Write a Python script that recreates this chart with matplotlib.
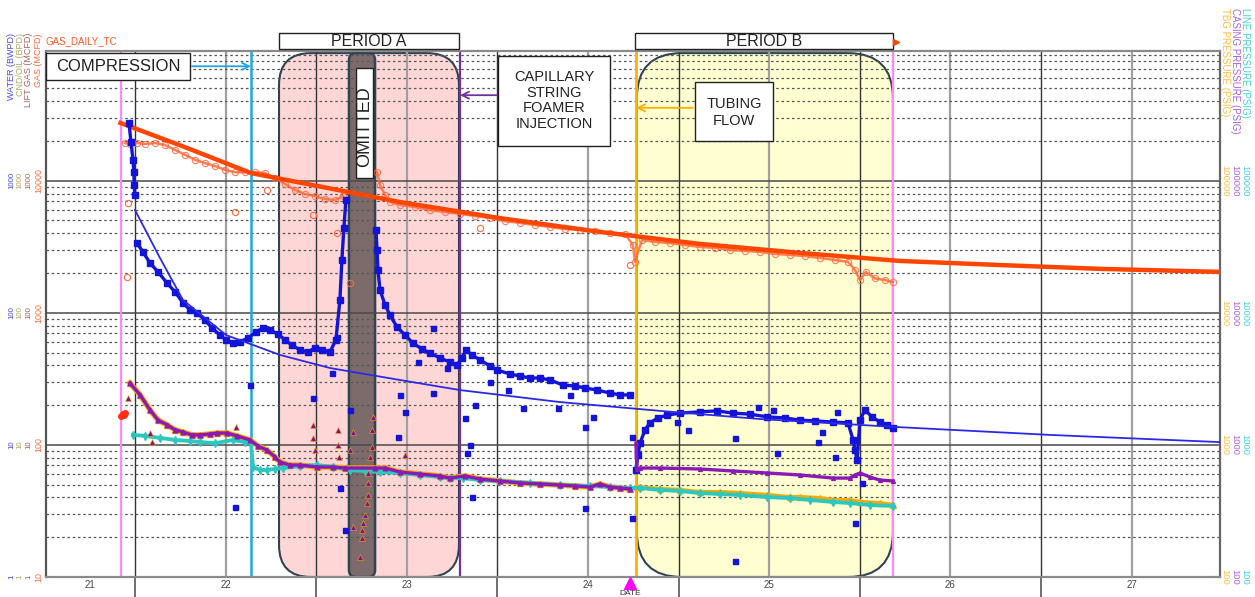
import numpy as np
import matplotlib.pyplot as plt
from matplotlib.patches import FancyBboxPatch, Rectangle
from matplotlib.ticker import LogLocator, NullFormatter

plt.rcParams['font.family'] = ['Liberation Sans', 'DejaVu Sans']

nan = np.nan

# time axis in decimal years
year_edges = [2022, 2023, 2024, 2025, 2026, 2027]
mid_years = [2022.5, 2023.5, 2024.5, 2025.5, 2026.5, 2027.5]
label_pos = [2021.754, 2022.5, 2023.5, 2024.5, 2025.5, 2026.5, 2027.5]
year_labels = ['21', '22', '23', '24', '25', '26', '27']

# GAS_DAILY_TC type curve (MCFD)
gas_tc_t = [2021.92, 2022.26, 2022.64, 2023.46, 2024.01, 2024.57, 2025.12,
            2025.67, 2026.22, 2026.77, 2027.33, 2027.99]
gas_tc = [27350, 18300, 11430, 6900, 5220, 4090, 3320, 2840, 2470, 2300, 2150, 2040]

# gas (MCFD)
gas_t = [2021.945, 2021.972, 2022.011, 2022.055, 2022.110, 2022.166, 2022.221, 2022.276,
         2022.331, 2022.386, 2022.442, 2022.497, 2022.552, 2022.607, 2022.662, 2022.717,
         2022.773, 2022.828, 2022.883, 2022.938, 2022.993, 2023.049, 2023.104, 2023.148,
         2023.240, 2023.336, 2023.352, 2023.380, 2023.407, 2023.462, 2023.545, 2023.628,
         2023.711, 2023.794, 2023.876, 2023.959, 2024.042, 2024.125, 2024.208, 2024.290,
         2024.373, 2024.456, 2024.539, 2024.621, 2024.704, 2024.748, 2024.759, 2024.798,
         2024.870, 2024.953, 2025.035, 2025.118, 2025.201, 2025.284, 2025.366, 2025.449,
         2025.532, 2025.615, 2025.698, 2025.780, 2025.863, 2025.935, 2025.974, 2026.001,
         2026.034, 2026.084, 2026.139, 2026.183]
gas = [19300, 19000, 19300, 19000, 19300, 18600, 17100, 15700,
       14400, 13600, 12900, 12100, 11600, 11600, 11600, 11400,
       10470, 9440, 8510, 7930, 7660, 7270, 7140, 7660,
       nan, 11640, 9270, 7800, 6900, 6550, 6320, 6000,
       5790, 5600, 5410, 5220, 4950, 4790, 4620, 4460,
       4310, 4240, 4160, 4020, 3960, 3260, 2430, 3560,
       3440, 3370, 3260, 3150, 3100, 2990, 2940, 2890,
       2790, 2740, 2690, 2600, 2510, 2430, 2110, 1770,
       2040, 1820, 1770, 1710]
gas_out_t = [2021.961, 2021.956, 2022.552, 2022.982, 2023.115, 2022.728, 2023.904, 2024.732, 2023.187]
gas_out = [6780, 1870, 5790, 5500, 4020, 8510, 4390, 2300, 1680]

# water (BWPD)
water_t = [2021.967, 2021.978, 2021.989, 2021.994, 2021.996, 2022.000, 2022.005, 2022.011,
           2022.044, 2022.083, 2022.127, 2022.177, 2022.221, 2022.265, 2022.304, 2022.342,
           2022.386, 2022.425, 2022.469, 2022.502, 2022.541, 2022.579, 2022.624, 2022.668,
           2022.706, 2022.745, 2022.789, 2022.828, 2022.866, 2022.911, 2022.955, 2022.993,
           2023.032, 2023.076, 2023.109, 2023.131, 2023.142, 2023.153, 2023.164, 2023.250,
           2023.330, 2023.336, 2023.341, 2023.352, 2023.380, 2023.407, 2023.446, 2023.490,
           2023.534, 2023.584, 2023.628, 2023.683, 2023.738, 2023.777, 2023.805, 2023.827,
           2023.860, 2023.904, 2023.959, 2023.998, 2024.070, 2024.125, 2024.180, 2024.235,
           2024.290, 2024.362, 2024.428, 2024.483, 2024.550, 2024.621, 2024.677, 2024.732,
           2024.750, 2024.765, 2024.776, 2024.787, 2024.815, 2024.842, 2024.886, 2024.936,
           2025.008, 2025.118, 2025.212, 2025.300, 2025.394, 2025.488, 2025.587, 2025.670,
           2025.753, 2025.852, 2025.935, 2025.963, 2025.974, 2025.985, 2026.001, 2026.029,
           2026.067, 2026.111, 2026.150, 2026.183]
water = [2735, 1963, 1435, 1164, 927, 780, nan, 337,
         289, 238, 204, 168, 144, 119, 105, 99.6,
         88.2, 76.7, 67.9, 62.3, 59.0, 60.1, 64.5, 71.6,
         76.7, 74.1, 69.1, 62.3, 57.0, 52.3, 50.5, 54.2,
         52.3, 50.5, 62.3, 125, 251, 439, 714, nan,
         424, 299, 211, 149, 115, 96.2, 78.1, 67.9,
         59.0, 53.2, 49.6, 45.5, 42.4, 40.3, 45.5, 52.3,
         48.0, 44.0, 39.6, 36.9, 34.4, 33.2, 32.1, 32.1,
         31.0, 28.4, 27.9, 27.0, 26.0, 24.7, 23.9, 23.9,
         nan, 6.46, 8.39, 10.3, 13.0, 14.7, 16.0, 16.8,
         17.4, 17.8, 18.1, 17.4, 17.1, 16.3, 16.0, 15.4,
         15.2, 14.9, 14.7, 10.9, 9.14, 7.69, 15.4, 18.4,
         16.3, 14.9, 14.2, 13.4]
water_out_t = [2022.635, 2022.552, 2022.982, 2023.187, 2023.131, 2023.087, 2023.462, 2023.490,
               2023.451, 2023.645, 2023.115, 2023.645, 2023.562, 2023.722, 2023.821, 2023.849,
               2023.832, 2023.860, 2023.876, 2023.959, 2024.058, 2024.141, 2024.334, 2024.401,
               2024.483, 2024.528, 2024.483, 2024.743, 2024.743, 2024.991, 2025.052, 2025.311,
               2025.543, 2025.769, 2025.791, 2025.863, 2025.874, 2025.974, 2026.012, 2025.311,
               2025.438, 2025.521, 2023.159]
water_out = [28.4, 3.39, 22.6, 18.4, 4.72, 35.0, 23.9, 17.8,
             11.5, 24.7, 65.6, 76.7, 42.4, 38.2, 16.0, 9.98,
             8.68, 4.03, 20.0, 29.9, 26.0, 19.0, 19.0, 23.9,
             13.7, 16.3, 3.33, 11.5, 2.80, 14.9, 13.0, 11.3,
             8.68, 10.5, 12.5, 8.10, 17.8, 2.56, 5.15, 1.32,
             19.4, 18.4, 2.27]
water_tc_t = [2022.000, 2022.138, 2022.265, 2022.502, 2022.800, 2023.076, 2023.462,
              2023.794, 2024.345, 2024.897, 2025.449, 2026.183, 2027.050, 2027.988]
water_tc = [600, 260, 125, 67.9, 48.0, 38.2, 31.0, 26.0, 21.1, 18.1, 15.7, 13.7, 11.9, 10.5]

# lift gas (MCFD)
lift_t = [2021.925, 2021.932, 2021.938, 2021.945]
lift = [16.5, 17.0, 16.8, 17.4]

# casing / tbg pressure before tubing flow (PSIG)
csg_t = [2021.972, 2022.028, 2022.083, 2022.127, 2022.177, 2022.221, 2022.265, 2022.315,
         2022.359, 2022.414, 2022.453, 2022.508, 2022.563, 2022.635, 2022.679, 2022.728,
         2022.773, 2022.800, 2022.855, 2022.911, 2023.004, 2023.093, 2023.159, 2023.325,
         2023.380, 2023.462, 2023.573, 2023.683, 2023.738, 2023.821, 2023.904, 2024.014,
         2024.125, 2024.235, 2024.345, 2024.428, 2024.511, 2024.566, 2024.621, 2024.677,
         2024.732]
csg = [2940, 2390, 1840, 1540, 1420, 1300, 1250, 1190,
       1190, 1210, 1230, 1230, 1170, 1090, 980, 914,
       810, 742, 704, 704, 680, 680, 668, 668,
       668, 624, 602, 582, 561, 582, 552, 533,
       515, 506, 497, 489, 480, 506, 480, 472,
       464]
csg_b_t = [2024.765, 2024.770, 2024.787, 2024.897, 2025.118, 2025.300, 2025.488, 2025.670,
           2025.852, 2025.946, 2025.974, 2026.001, 2026.056, 2026.111, 2026.183]
csg_b = [1030, 657, 668, 668, 657, 635, 613, 592, 561, 561, 592, 613, 571, 542, 533]
tbg_b_t = [2024.770, 2024.787, 2024.897, 2025.008, 2025.118, 2025.229, 2025.339, 2025.488,
           2025.615, 2025.670, 2025.780, 2025.852, 2025.946, 2026.001, 2026.111, 2026.183]
tbg_b = [480, 480, 464, 456, 440, 440, 432, 418, 403, 403, 396, 383, 383, 370, 363, 351]
csg_out_t = [2022.982, 2022.982, 2022.993, 2023.120, 2023.120, 2023.126, 2023.203, 2023.187,
             2023.313, 2023.308, 2023.308, 2023.297, 2023.286, 2023.286, 2023.286, 2023.280,
             2023.269, 2023.258, 2023.253, 2023.253, 2023.242, 2023.203, 2023.490, 2021.961,
             2022.083, 2022.094, 2022.557]
csg_out = [1420, 1130, 914, 1300, 998, 810, 1250, 914,
           1630, 1300, 964, 810, 613, 515, 418, 363,
           295, 256, 227, 197, 142, 239, 839, 2260,
           1230, 1050, 1370]

# line pressure (PSIG)
line_t = [2021.989, 2022.055, 2022.138, 2022.221, 2022.304, 2022.359, 2022.442, 2022.541,
          2022.607, 2022.640, 2022.651, 2022.690, 2022.728, 2022.773, 2022.817, 2022.911,
          2023.004, 2023.093, 2023.187, 2023.269, 2023.352, 2023.462, 2023.573, 2023.683,
          2023.738, 2023.810, 2023.904, 2024.014, 2024.180, 2024.345, 2024.511, 2024.621,
          2024.732, 2024.787, 2024.897, 2025.008, 2025.118, 2025.229, 2025.339, 2025.488,
          2025.615, 2025.725, 2025.852, 2025.946, 2026.056, 2026.183]
line_p = [1190, 1170, 1130, 1090, 1070, 1050, 1030, 1090,
          1050, 1030, 680, 646, 646, 657, 668, 692,
          704, 680, 646, 635, 624, 613, 592, 571,
          561, 561, 542, 533, 515, 497, 489, 480,
          472, 472, 456, 448, 432, 425, 418, 403,
          396, 383, 370, 363, 351, 345]

# events / periods
compression_t = 2022.640
capillary_t = 2023.794
tubing_t = 2024.765
pink_lines = [2021.923, 2026.183]
period_a = (2022.795, 2023.788)
omitted = (2023.181, 2023.325)
period_b = (2024.770, 2026.183)
date_t = 2024.732

# ---------------- figure ----------------
fig = plt.figure(figsize=(12.55, 5.97), dpi=100)
ax = fig.add_axes([46/1255, 20/597, 1174/1255, 526/597])
dec = 526/132.1
ax.set_yscale('log')
ax.set_ylim(10, 10 * 10**dec)
ax.set_xlim(2021.509, 2027.988)

ax_w = ax.twinx()
ax_w.set_yscale('log')
ax_w.set_ylim(1, 10**dec)
ax_w.axis('off')
ax_p = ax.twinx()
ax_p.set_yscale('log')
ax_p.set_ylim(100, 100 * 10**dec)
ax_p.axis('off')

# grid
ax.yaxis.set_major_locator(LogLocator(base=10))
ax.yaxis.set_minor_locator(LogLocator(base=10, subs=np.arange(2, 10)))
ax.yaxis.set_minor_formatter(NullFormatter())
ax.tick_params(axis='y', which='both', length=0, labelleft=False, labelright=False)
ax.grid(axis='y', which='major', color='#4a4a4a', lw=1.1)
ax.grid(axis='y', which='minor', color='#555555', lw=0.9, ls=(0, (2, 2.2)))
ax.set_xticks(year_edges)
ax.set_xticklabels([])
ax.set_xticks(label_pos, minor=True)
ax.set_xticklabels(year_labels, minor=True)
ax.tick_params(axis='x', which='major', length=14.4, width=1.2, color='#555555', direction='out')
ax.tick_params(axis='x', which='minor', length=0, pad=2, labelsize=7, labelcolor='#444444')
ax.grid(axis='x', which='major', color='#333333', lw=1.0)
for m in mid_years:
    ax.axvline(m, color='#a0a0a0', lw=1.6, zorder=1.4)

for side, c in [('left', '#555555'), ('bottom', '#8a8a8a'), ('right', '#666666'), ('top', '#8a8a8a')]:
    ax.spines[side].set_color(c)
    ax.spines[side].set_linewidth(1.6)

# period shading
tx = ax.get_xaxis_transform()
asp = 181.2 / 526
for (x0, x1), fc, r in [(period_a, '#ffd6d6', 32), (period_b, '#ffffd2', 45)]:
    ax.add_patch(FancyBboxPatch((x0, 0), x1 - x0, 0.996,
                                boxstyle=f"round,pad=0,rounding_size={r/181.2}",
                                mutation_aspect=asp, transform=tx, fc=fc,
                                ec='#2e4450', lw=1.5, zorder=0.3))
ax.add_patch(FancyBboxPatch((omitted[0], 0), omitted[1] - omitted[0], 0.996,
                            boxstyle=f"round,pad=0,rounding_size={7/181.2}",
                            mutation_aspect=asp, transform=tx, fc='#7d6b6b',
                            ec='#2e4450', lw=1.8, zorder=0.35))

# event lines
for t in pink_lines:
    ax.axvline(t, color='#ff88ff', lw=1.6, zorder=2)
ax.axvline(compression_t, color='#1ea8e0', lw=1.8, zorder=2)
ax.axvline(capillary_t, color='#7030a0', lw=1.6, zorder=2)
ax.axvline(tubing_t, color='#ffb000', lw=2.0, zorder=2)

# gas
ax.plot(gas_t, gas, color='#ff6a3d', lw=1.8, alpha=0.85, marker='o', ms=4.5,
        mfc='none', mew=0.8, zorder=3)
ax.plot(gas_out_t, gas_out, ls='none', marker='o', ms=4.5, mfc='none', mew=0.8,
        color='#ff6a3d', zorder=3)
ax.plot(gas_tc_t, gas_tc, color='#ff4500', lw=3.2, zorder=3.2)

# water
ax_w.plot(water_t, water, color='#1414d8', lw=2.4, marker='s', ms=3.8, zorder=3)
ax_w.plot(water_out_t, water_out, ls='none', marker='s', ms=3.6, color='#1414d8', zorder=3)
ax_w.plot(water_tc_t, water_tc, color='#2a2ae6', lw=1.3, zorder=3)
ax_w.plot(lift_t, lift, ls='none', marker='o', ms=4, color='#ff3010', zorder=3)

# pressures
ax_p.plot(csg_t, csg, color='#ffa800', lw=4.0, marker='^', ms=4.6, zorder=3)
ax_p.plot(tbg_b_t, tbg_b, color='#ffa800', lw=3.0, marker='^', ms=4.0, zorder=3)
ax_p.plot(line_t, line_p, color='#2cc8c0', lw=2.8, marker='d', ms=3.8, zorder=3.1)
ax_p.plot(csg_t, csg, color='#8b1ab5', lw=2.4, marker='^', ms=3.4, zorder=3.2)
ax_p.plot(csg_b_t, csg_b, color='#8b1ab5', lw=2.4, marker='^', ms=2.8, zorder=3.2)
ax_p.plot(csg_out_t, csg_out, ls='none', marker='^', ms=4.4, color='#7a1590',
          mec='#ffa800', mew=0.4, zorder=3.3)

# annotations (top axes)
ta = ax_p.get_xaxis_transform()


def label_box(x0, y0, w, h, text, tx0, ty0, size, clip=True, **kw):
    ax_p.add_patch(Rectangle((x0, y0), w, h, transform=ta, fc='white', ec='#222222',
                             lw=1.0, zorder=20, clip_on=clip))
    ax_p.text(tx0, ty0, text, transform=ta, ha='center', va='center', fontsize=size,
              color='#222222', zorder=21, clip_on=False, **kw)


label_box(2021.509, 0.945, 0.795, 0.051, 'COMPRESSION', 2021.906, 0.9705, 12)
label_box(2024.003, 0.819, 0.618, 0.171, 'CAPILLARY\nSTRING\nFOAMER\nINJECTION',
          2024.312, 0.906, 10.5, linespacing=1.15)
label_box(2025.091, 0.829, 0.430, 0.112, 'TUBING\nFLOW', 2025.306, 0.883, 10.5,
          linespacing=1.2)
label_box(period_a[0], 1.004, period_a[1] - period_a[0], 0.030, 'PERIOD A',
          sum(period_a) / 2, 1.019, 11.5, clip=False)
label_box(2024.759, 1.004, period_b[1] - 2024.759, 0.030, 'PERIOD B',
          (2024.759 + period_b[1]) / 2, 1.019, 11.5, clip=False)
ax_p.add_patch(Rectangle((2023.219, 0.759), 0.094, 0.209, transform=ta, fc='white',
                         ec='#222222', lw=1.0, zorder=20))
ax_p.text(2023.266, 0.856, 'OMITTED', transform=ta, rotation=90, ha='center',
          va='center', fontsize=13, color='#222222', zorder=21)

arrow = '->,head_length=0.5,head_width=0.25'
for x_from, x_to, y, c in [(2022.315, compression_t, 0.971, '#1ea8e0'),
                           (2023.998, capillary_t, 0.916, '#7030a0'),
                           (2025.080, tubing_t, 0.892, '#ffb000')]:
    ax_p.annotate('', xy=(x_to, y), xytext=(x_from, y), xycoords=ta, textcoords=ta,
                  arrowprops=dict(arrowstyle=arrow, color=c, lw=1.3, shrinkA=0, shrinkB=0),
                  zorder=22)

ax_p.plot([date_t], [-0.011], marker='^', ms=8, color='#ff00ff', transform=ta,
          clip_on=False, zorder=22)
ax_p.text(date_t, -0.031, 'DATE', transform=ta, ha='center', va='center', fontsize=6,
          color='#333333', clip_on=False, zorder=23)
ax_p.plot([2026.2], [1.017], marker='>', ms=4, color='#ff4500', transform=ta,
          clip_on=False, zorder=22)

# axis label columns
tyg = ax.get_yaxis_transform()
tyw = ax_w.get_yaxis_transform()
typ = ax_p.get_yaxis_transform()
left_cols = [(-0.0292, '#4848f0', 'WATER (BWPD)', tyw, [1, 10, 100, 1000], 5.6),
             (-0.0221, '#b0a860', 'CND/OIL (BPD)', tyw, [1, 10, 100, 1000], 5.6),
             (-0.0145, '#a86060', 'LIFT GAS (MCFD)', tyw, [1, 10, 100, 1000], 5.6),
             (-0.0060, '#ff6a3a', 'GAS (MCFD)', tyg, [10, 100, 1000, 10000], 6.4)]
for xc, c, title, tr, vals, fs in left_cols:
    for v in vals:
        ax.text(xc, v, str(v), transform=tr, rotation=90, ha='center', va='center',
                fontsize=fs, color=c, clip_on=False)
    ax.text(xc, 1.034, title, transform=ax.transAxes, rotation=90, ha='center', va='top',
            fontsize=6.5, color=c, clip_on=False)
ax.text(0.0, 1.019, 'GAS_DAILY_TC', transform=ax.transAxes, ha='left', va='center',
        fontsize=7, color='#ff5a2a', clip_on=False)

right_cols = [(1.0043, '#ffbe40', 'TBG PRESSURE (PSIG)'),
              (1.0128, '#b060e0', 'CASING PRESSURE (PSIG)'),
              (1.0213, '#40d4d4', 'LINE PRESSURE (PSIG)')]
for xc, c, title in right_cols:
    for v in [100, 1000, 10000, 100000]:
        ax.text(xc, v, str(v), transform=typ, rotation=270, ha='center', va='center',
                fontsize=6.8, color=c, clip_on=False)
    ax.text(xc, 1.082, title, transform=ax.transAxes, rotation=270, ha='center', va='top',
            fontsize=7, color=c, clip_on=False)

fig.savefig('out.png', dpi=100)
